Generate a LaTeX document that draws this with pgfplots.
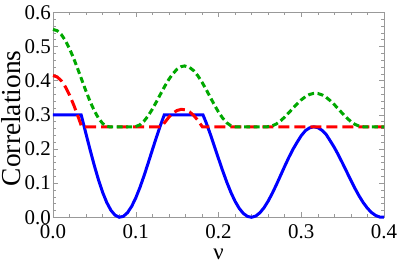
\documentclass[border=0pt]{standalone}
\usepackage{fontspec}
\setmainfont{Liberation Serif}
\usepackage{pgfplots}
\pgfplotsset{compat=1.18}
\definecolor{mgreen}{rgb}{0,0.66,0}
\begin{document}
\begin{tikzpicture}
\begin{axis}[
  at={(0,0)}, anchor=south west,
  scale only axis, width=331bp, height=205bp,
  xmin=0, xmax=0.4, ymin=0, ymax=0.6,
  xtick={0,0.1,0.2,0.3,0.4}, ytick={0,0.1,0.2,0.3,0.4,0.5,0.6},
  minor x tick num=4, minor y tick num=4,
  tick align=inside,
  major tick length=5bp, minor tick length=3bp,
  axis line style={black!40, line width=0.6pt},
  tick style={black!40, line width=0.5pt},
  clip=false,
  /pgf/number format/assume math mode=true,
  xticklabel style={font=\fontsize{21}{21}\selectfont, inner sep=0pt, yshift=-7bp,
    /pgf/number format/fixed, /pgf/number format/fixed zerofill, /pgf/number format/precision=1},
  yticklabel style={font=\fontsize{21}{21}\selectfont, inner sep=0pt, xshift=-2bp,
    /pgf/number format/fixed, /pgf/number format/fixed zerofill, /pgf/number format/precision=1},
  xlabel={ν}, ylabel={Correlations},
  every axis x label/.style={at={(axis description cs:0.5,0)}, yshift=-37bp, anchor=center, font=\fontsize{23}{23}\selectfont},
  every axis y label/.style={at={(axis description cs:0,0.483)}, xshift=-42bp, anchor=center, rotate=90, font=\fontsize{27.5}{27.5}\selectfont},
]
\addplot[blue, line width=3bp] coordinates {
(0,0.3)(0.034,0.3)(0.035,0.291)(0.040,0.2432)(0.045,0.196)(0.050,0.1509)(0.055,0.1094)
(0.060,0.0730)(0.065,0.0431)(0.070,0.0206)(0.075,0.0061)(0.080,0.0002)(0.085,0.0027)
(0.090,0.0134)(0.095,0.0317)(0.100,0.0566)(0.105,0.0869)(0.110,0.1214)(0.115,0.1586)
(0.120,0.1967)(0.125,0.2345)(0.130,0.2702)(0.1345,0.3)(0.1812,0.3)(0.185,0.2776)
(0.190,0.2441)(0.195,0.2084)(0.200,0.1720)(0.205,0.1365)(0.210,0.1030)(0.215,0.0728)
(0.220,0.0470)(0.225,0.0263)(0.230,0.0114)(0.235,0.0026)(0.240,0.0001)(0.245,0.0037)
(0.250,0.0132)(0.255,0.0280)(0.260,0.0474)(0.265,0.0702)(0.270,0.0956)(0.275,0.1224)
(0.280,0.1493)(0.285,0.1752)(0.290,0.1990)(0.295,0.2197)(0.300,0.2390)(0.305,0.2535)
(0.310,0.2617)(0.315,0.2648)(0.320,0.2624)(0.325,0.2548)(0.330,0.2428)(0.335,0.2239)
(0.340,0.2043)(0.345,0.1819)(0.350,0.1578)(0.355,0.1330)(0.360,0.1080)(0.365,0.0842)
(0.370,0.0621)(0.375,0.0427)(0.380,0.0264)(0.385,0.0139)(0.390,0.0052)(0.395,0.0007)
(0.400,0.0003)
};
\addplot[red, line width=3bp, dash pattern=on 11bp off 5bp] coordinates {
(0,0.415)(0.005,0.411)(0.010,0.3998)(0.015,0.3816)(0.020,0.3575)(0.025,0.3290)
(0.030,0.2968)(0.0347,0.265)(0.131,0.265)(0.135,0.2775)(0.140,0.293)(0.145,0.3049)
(0.150,0.3127)(0.155,0.316)(0.160,0.3145)(0.165,0.3085)(0.170,0.2982)(0.175,0.2840)
(0.180,0.2666)(0.1805,0.265)(0.400,0.265)
};
\addplot[mgreen, line width=3bp, dash pattern=on 6bp off 3.5bp] coordinates {
(0,0.55)(0.005,0.5462)(0.010,0.5351)(0.015,0.5171)(0.020,0.4934)(0.025,0.4651)
(0.030,0.4337)(0.035,0.4009)(0.040,0.3684)(0.045,0.338)(0.050,0.3115)(0.055,0.2899)
(0.060,0.2746)(0.065,0.2664)(0.068,0.265)(0.098,0.265)(0.100,0.2655)(0.105,0.2707)
(0.110,0.2815)(0.115,0.2970)(0.120,0.3163)(0.125,0.3381)(0.130,0.3609)(0.135,0.3833)
(0.140,0.4037)(0.145,0.4208)(0.150,0.4336)(0.155,0.4411)(0.159,0.443)(0.165,0.4388)
(0.170,0.4291)(0.175,0.4144)(0.180,0.3958)(0.185,0.3744)(0.190,0.3517)(0.195,0.3292)
(0.200,0.3081)(0.205,0.2904)(0.210,0.2766)(0.215,0.2679)(0.220,0.265)(0.259,0.265)
(0.265,0.2676)(0.270,0.2734)(0.275,0.2823)(0.280,0.2934)(0.285,0.3061)(0.290,0.3193)
(0.295,0.3321)(0.300,0.3437)(0.305,0.3530)(0.310,0.3595)(0.315,0.3627)(0.317,0.363)
(0.320,0.3624)(0.325,0.3585)(0.330,0.3514)(0.335,0.3415)(0.340,0.3297)(0.345,0.3167)
(0.350,0.3035)(0.355,0.2910)(0.360,0.2803)(0.365,0.2720)(0.370,0.2668)(0.375,0.265)
(0.400,0.265)
};
\end{axis}
\pgfresetboundingbox
\path[use as bounding box] (-53bp,-47.7bp) rectangle (346bp,217.3bp);
\end{tikzpicture}
\end{document}
